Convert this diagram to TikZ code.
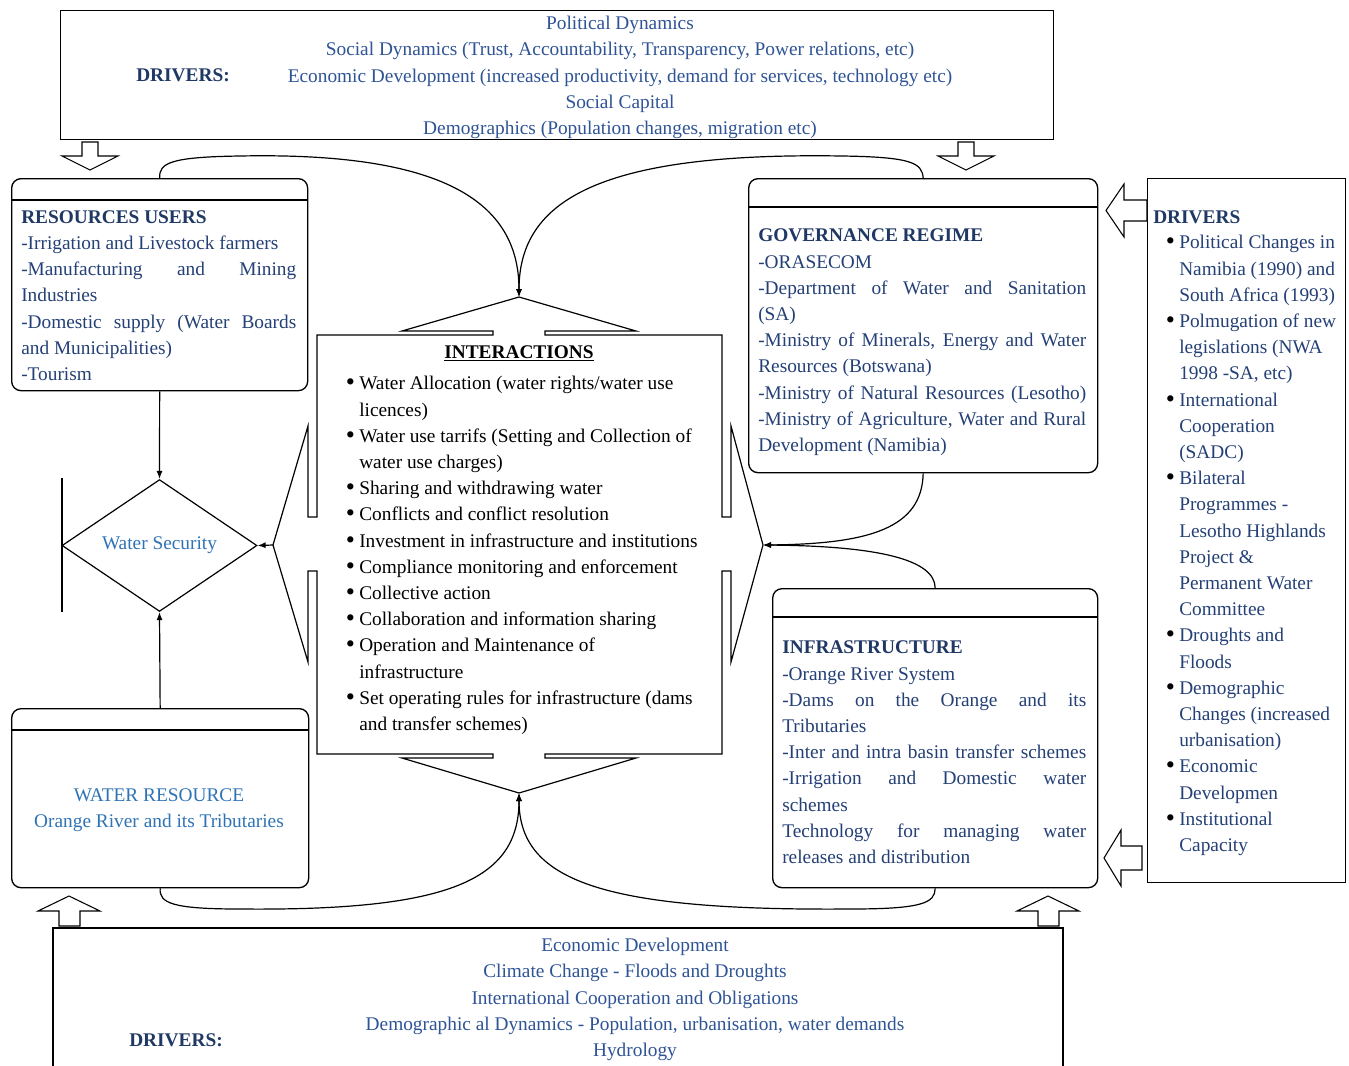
\documentclass[tikz,border=0pt]{standalone}
\usepackage{fontspec}
\setmainfont{Liberation Serif}
\usetikzlibrary{arrows.meta,shapes.geometric}
\definecolor{navy}{RGB}{31,56,100}
\definecolor{bodyblue}{RGB}{36,64,118}
\definecolor{drvblue}{RGB}{47,84,150}
\definecolor{wblue}{RGB}{46,116,181}
\newdimen\pxu \pxu=0.75pt
\newcommand{\jl}[2]{\makebox[#1\pxu][s]{#2}}
\newcommand{\bul}{\llap{\textcolor{black}{\raisebox{-0.05em}{\scalebox{1.35}{\textbullet}}}\hspace{0.22em}}}
\tikzset{
  box/.style={draw, line width=1pt, inner sep=0pt, anchor=north west},
  rbox/.style={box, rounded corners=7pt},
  barrow/.style={draw, line width=0.8pt, fill=white},
  conn/.style={line width=0.9pt},
  arr/.style={conn, -{Latex[length=6pt,width=4.5pt]}},
  txt/.style={inner sep=0pt, anchor=base west, align=left},
  ctxt/.style={inner sep=0pt, anchor=base, align=center},
}
\begin{document}
\fontsize{14.5}{19.65}\selectfont
\begin{tikzpicture}[x=0.75pt,y=-0.75pt]
\useasboundingbox (0,0) rectangle (1349,1065);
\fill[white] (0,0) rectangle (1349,1065);

% ---------- top drivers ----------
\node[box, minimum width=744.75pt, minimum height=96.75pt] (topdrv) at (60,10) {};
\node[ctxt, text=drvblue] (toptext) at (620,134.5) {Political Dynamics\\Social Dynamics (Trust, Accountability, Transparency, Power relations, etc)\\Economic Development (increased productivity, demand for services, technology etc)\\Social Capital\\Demographics (Population changes, migration etc)};
\node[ctxt, text=navy, font=\bfseries] (toplbl) at (183,81.5) {DRIVERS:};

% down block arrows
\draw[barrow] (82,142) -- (98,142) -- (98,156) -- (118,156) -- (90,170) -- (62,156) -- (82,156) -- cycle;
\draw[barrow] (958,142) -- (974,142) -- (974,156) -- (994,156) -- (966,170) -- (938,156) -- (958,156) -- cycle;

% ---------- resource users ----------
\node[rbox, minimum width=222pt, minimum height=159pt] (ru) at (11,178) {};
\draw[conn] ([yshift=-16.5pt]ru.north west) -- ([yshift=-16.5pt]ru.north east);
\node[txt, text=bodyblue] (rutext) at (21,380.5) {\textcolor{navy}{\textbf{RESOURCES USERS}}\\-Irrigation and Livestock farmers\\\jl{275}{-Manufacturing and Mining}\\Industries\\\jl{275}{-Domestic supply (Water Boards}\\and Municipalities)\\-Tourism};

% ---------- governance ----------
\node[rbox, minimum width=261.75pt, minimum height=220.5pt] (gov) at (748,178) {};
\draw[conn] ([yshift=-21.75pt]gov.north west) -- ([yshift=-21.75pt]gov.north east);
\node[txt, text=bodyblue] (govtext) at (758,451.5) {\textcolor{navy}{\textbf{GOVERNANCE REGIME}}\\-ORASECOM\\\jl{328}{-Department of Water and Sanitation}\\(SA)\\\jl{328}{-Ministry of Minerals, Energy and Water}\\Resources (Botswana)\\\jl{328}{-Ministry of Natural Resources (Lesotho)}\\\jl{328}{-Ministry of Agriculture, Water and Rural}\\Development (Namibia)};

% ---------- infrastructure ----------
\node[rbox, minimum width=243.75pt, minimum height=224.25pt] (inf) at (772,588) {};
\draw[conn] ([yshift=-21.75pt]inf.north west) -- ([yshift=-21.75pt]inf.north east);
\node[txt, text=bodyblue] (inftext) at (782,863.5) {\textcolor{navy}{\textbf{INFRASTRUCTURE}}\\-Orange River System\\\jl{304}{-Dams on the Orange and its}\\Tributaries\\\jl{304}{-Inter and intra basin transfer schemes}\\\jl{304}{-Irrigation and Domestic water}\\schemes\\\jl{304}{Technology for managing water}\\releases and distribution};

% ---------- water resource ----------
\node[rbox, minimum width=222.75pt, minimum height=134.25pt] (wr) at (11,708) {};
\draw[conn] ([yshift=-16.5pt]wr.north west) -- ([yshift=-16.5pt]wr.north east);
\node[ctxt, text=wblue] (wrtext) at (159,827.5) {WATER RESOURCE\\Orange River and its Tributaries};

% ---------- water security ----------
\node[draw, conn, diamond, inner sep=0pt, minimum width=146.25pt, minimum height=98.25pt, text=wblue] (wsd) at (159.5,545.5) {Water Security};
\draw[conn] (62,478) -- (62,612);

% ---------- interactions ----------
\coordinate (itop) at (519,297);
\coordinate (ibot) at (519,793);
\coordinate (ileft) at (273,545);
\coordinate (iright) at (763,545);
\draw[conn, line join=miter]
  (317,335) -- (493,335) -- (493,331) -- (402,331) -- (itop) -- (636,331) -- (545,331) -- (545,335)
  -- (722,335) -- (722,517) -- (731,517) -- (731,426) -- (iright) -- (731,662) -- (731,571) -- (722,571)
  -- (722,754) -- (545,754) -- (545,758) -- (636,758) -- (ibot) -- (402,758) -- (493,758) -- (493,754)
  -- (317,754) -- (317,571) -- (308,571) -- (308,662) -- (ileft) -- (308,426) -- (308,517) -- (317,517) -- cycle;
\node[ctxt, font=\bfseries] (ihead) at (519,358.5) {\underline{INTERACTIONS}};
\node[txt] (itext) at (359,730.5) {\bul Water Allocation (water rights/water use\\licences)\\\bul Water use tarrifs (Setting and Collection of\\water use charges)\\\bul Sharing and withdrawing water\\\bul Conflicts and conflict resolution\\\bul Investment in infrastructure and institutions\\\bul Compliance monitoring and enforcement\\\bul Collective action\\\bul Collaboration and information sharing\\\bul Operation and Maintenance of\\infrastructure\\\bul Set operating rules for infrastructure (dams\\and transfer schemes)};

% ---------- right drivers ----------
\node[box, minimum width=148.5pt, minimum height=528pt] (rdrv) at (1147,178) {};
\node[txt, text=navy, font=\bfseries] (rdlbl) at (1153,223.5) {DRIVERS};
\node[txt, text=bodyblue] (rdtext) at (1179,851.5) {\bul Political Changes in\\Namibia (1990) and\\South Africa (1993)\\\bul Polmugation of new\\legislations (NWA\\1998 -SA, etc)\\\bul International\\Cooperation\\(SADC)\\\bul Bilateral\\Programmes -\\Lesotho Highlands\\Project \&\\Permanent Water\\Committee\\\bul Droughts and\\Floods\\\bul Demographic\\Changes (increased\\urbanisation)\\\bul Economic\\Developmen\\\bul Institutional\\Capacity};
\draw[barrow] (1147,200) -- (1124,200) -- (1124,184) -- (1106,210.5) -- (1124,237) -- (1124,221) -- (1147,221) -- cycle;
\draw[barrow] (1142,846) -- (1121,846) -- (1121,830) -- (1104,858) -- (1121,886) -- (1121,870) -- (1142,870) -- cycle;

% ---------- bottom drivers ----------
\draw[conn] (53,1070) -- (53,928) -- (1063,928) -- (1063,1070);
\node[ctxt, text=drvblue] (bottext) at (635,1056.5) {Economic Development\\Climate Change - Floods and Droughts\\International Cooperation and Obligations\\Demographic al Dynamics - Population, urbanisation, water demands\\Hydrology};
\node[ctxt, text=navy, font=\bfseries] (botlbl) at (176,1046.5) {DRIVERS:};
\draw[barrow] (59,926) -- (80,926) -- (80,911) -- (100,911) -- (69,896) -- (38,911) -- (59,911) -- cycle;
\draw[barrow] (1038,926) -- (1059,926) -- (1059,911) -- (1079,911) -- (1048,896) -- (1017,911) -- (1038,911) -- cycle;

% ---------- connectors ----------
\draw[arr] (ru.south) -- (wsd.north);
\draw[arr] (wr.north) -- (wsd.south);
\draw[arr] (ileft) -- (wsd.east);
\draw[arr] (ru.north) .. controls (159,163) and (170,157) .. (240,156) .. controls (440,152) and (519,200) .. (itop);
\draw[arr] (gov.north) .. controls (922,163) and (912,157) .. (842,156) .. controls (600,152) and (519,200) .. (itop);
\draw[arr] (gov.south) .. controls (922,528) and (870,544) .. (iright);
\draw[arr] (inf.north) .. controls (935,560) and (880,546) .. (iright);
\draw[arr] (wr.south) .. controls (159,903) and (172,909) .. (240,909) .. controls (450,911) and (519,880) .. (ibot);
\draw[arr] (inf.south) .. controls (935,903) and (922,909) .. (850,909) .. controls (600,911) and (519,880) .. (ibot);
\end{tikzpicture}
\end{document}
